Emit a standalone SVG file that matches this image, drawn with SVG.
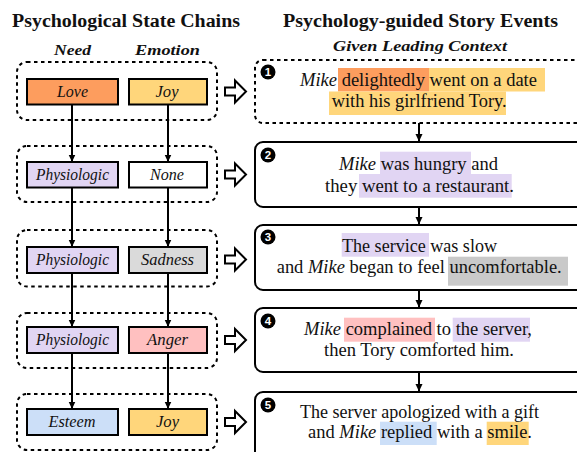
<svg xmlns="http://www.w3.org/2000/svg" width="577" height="452" viewBox="0 0 577 452">
<defs>
<marker id="ah" markerWidth="8" markerHeight="8" refX="7" refY="4" orient="auto" markerUnits="userSpaceOnUse">
<path d="M0,0.5 L7.5,4 L0,7.5 Z" fill="#000"/>
</marker>
<style>
.t{font-family:"Liberation Serif","DejaVu Serif",serif;fill:#111;}
.title{font-size:18px;font-weight:bold;}
.sub{font-size:15.5px;font-weight:bold;font-style:italic;}
.lab{font-size:16px;font-style:italic;text-anchor:middle;}
.body{font-size:18px;}
.i{font-style:italic;}
.box{stroke:#000;stroke-width:2;}
.grp{fill:none;stroke:#000;stroke-width:2;stroke-dasharray:3.5 3.5;}
.ev{fill:#fff;stroke:#000;stroke-width:2;}
.ha{fill:#fff;stroke:#000;stroke-width:2;stroke-linejoin:miter;}
.con{stroke:#000;stroke-width:2;fill:none;marker-end:url(#ah);}
.num{font-family:"Liberation Sans","DejaVu Sans",sans-serif;font-size:11.5px;font-weight:bold;fill:#fff;text-anchor:middle;}
</style>
</defs>
<rect width="577" height="452" fill="#fff"/>

<text class="t title" x="12" y="27" textLength="228" lengthAdjust="spacingAndGlyphs">Psychological State Chains</text>
<text class="t title" x="283" y="27" textLength="275" lengthAdjust="spacingAndGlyphs">Psychology-guided Story Events</text>
<text class="t sub" x="54" y="55" textLength="37" lengthAdjust="spacingAndGlyphs">Need</text>
<text class="t sub" x="135" y="55" textLength="65" lengthAdjust="spacingAndGlyphs">Emotion</text>
<text class="t sub" x="333" y="51" textLength="174" lengthAdjust="spacingAndGlyphs">Given Leading Context</text>

<g id="connectors">
<line class="con" x1="72" y1="104.5" x2="72" y2="161.5"/>
<line class="con" x1="168" y1="104.5" x2="168" y2="161.5"/>
<line class="con" x1="72" y1="187.5" x2="72" y2="246.5"/>
<line class="con" x1="168" y1="187.5" x2="168" y2="246.5"/>
<line class="con" x1="72" y1="273.5" x2="72" y2="326.5"/>
<line class="con" x1="168" y1="273.5" x2="168" y2="326.5"/>
<line class="con" x1="72" y1="353.5" x2="72" y2="408.5"/>
<line class="con" x1="168" y1="353.5" x2="168" y2="408.5"/>
<line class="con" x1="419" y1="123" x2="419" y2="141"/>
<line class="con" x1="419" y1="207" x2="419" y2="224"/>
<line class="con" x1="419" y1="290" x2="419" y2="307"/>
<line class="con" x1="419" y1="372" x2="419" y2="391"/>
<path class="ha" d="M225,87.5 H235 V80.5 L246,91.5 L235,102.5 V95.5 H225 Z"/>
<path class="ha" d="M225,170.5 H235 V163.5 L246,174.5 L235,185.5 V178.5 H225 Z"/>
<path class="ha" d="M225,255.5 H235 V248.5 L246,259.5 L235,270.5 V263.5 H225 Z"/>
<path class="ha" d="M225,336 H235 V329 L246,340 L235,351 V344 H225 Z"/>
<path class="ha" d="M225,418 H235 V411 L246,422 L235,433 V426 H225 Z"/>
</g>

<g id="state1">
<rect class="grp" x="17" y="62" width="200" height="58" rx="10"/>
<rect class="box" x="27" y="79" width="91" height="25.5" fill="#FD9D5E"/>
<text class="t lab" x="72.5" y="97" textLength="31" lengthAdjust="spacingAndGlyphs">Love</text>
<rect class="box" x="129" y="79" width="78" height="25.5" fill="#FFD67B"/>
<text class="t lab" x="167" y="97" textLength="23" lengthAdjust="spacingAndGlyphs">Joy</text>
</g>
<g id="state2">
<rect class="grp" x="17" y="146" width="200" height="56" rx="10"/>
<rect class="box" x="27" y="162" width="91" height="25.5" fill="#E1D5F3"/>
<text class="t lab" x="72.5" y="180" textLength="73" lengthAdjust="spacingAndGlyphs">Physiologic</text>
<rect class="box" x="129" y="162" width="78" height="25.5" fill="#FFFFFF"/>
<text class="t lab" x="167" y="180" textLength="34" lengthAdjust="spacingAndGlyphs">None</text>
</g>
<g id="state3">
<rect class="grp" x="17" y="230" width="200" height="56.5" rx="10"/>
<rect class="box" x="27" y="247" width="91" height="26" fill="#E1D5F3"/>
<text class="t lab" x="72.5" y="265" textLength="73" lengthAdjust="spacingAndGlyphs">Physiologic</text>
<rect class="box" x="129" y="247" width="78" height="26" fill="#DADADA"/>
<text class="t lab" x="167.5" y="265" textLength="53" lengthAdjust="spacingAndGlyphs">Sadness</text>
</g>
<g id="state4">
<rect class="grp" x="17" y="313" width="200" height="55" rx="10"/>
<rect class="box" x="27" y="327" width="91" height="26" fill="#E1D5F3"/>
<text class="t lab" x="72.5" y="345" textLength="73" lengthAdjust="spacingAndGlyphs">Physiologic</text>
<rect class="box" x="129" y="327" width="78" height="26" fill="#FFC0C0"/>
<text class="t lab" x="167.5" y="345" textLength="41" lengthAdjust="spacingAndGlyphs">Anger</text>
</g>
<g id="state5">
<rect class="grp" x="17" y="394" width="200" height="56" rx="10"/>
<rect class="box" x="27" y="409" width="91" height="26" fill="#CCDFF8"/>
<text class="t lab" x="72" y="427" textLength="47" lengthAdjust="spacingAndGlyphs">Esteem</text>
<rect class="box" x="129" y="409" width="78" height="26" fill="#FFD67B"/>
<text class="t lab" x="167.5" y="427" textLength="23" lengthAdjust="spacingAndGlyphs">Joy</text>
</g>

<g id="event1">
<rect class="grp" x="255" y="60" width="340" height="63" rx="8"/>
<rect x="338" y="68" width="91" height="23.5" fill="#FD9D5E"/>
<rect x="429" y="68" width="116" height="23.5" fill="#FFD67B"/>
<rect x="329" y="91.5" width="177" height="23.5" fill="#FFD67B"/>
<circle cx="268" cy="72" r="7.5" fill="#000"/>
<text class="num" x="268" y="76">1</text>
<text class="t body" x="300" y="86" textLength="237" lengthAdjust="spacingAndGlyphs"><tspan class="i">Mike</tspan> delightedly went on a date</text>
<text class="t body" x="331.7" y="107" textLength="175" lengthAdjust="spacingAndGlyphs">with his girlfriend Tory.</text>
</g>
<g id="event2">
<rect class="ev" x="255" y="142" width="340" height="65" rx="8"/>
<rect x="380" y="151.7" width="91" height="22.3" fill="#E1D5F3"/>
<rect x="359" y="174" width="152.7" height="23.7" fill="#E1D5F3"/>
<circle cx="268" cy="155" r="7.5" fill="#000"/>
<text class="num" x="268" y="159">2</text>
<text class="t body" x="339" y="170" textLength="159" lengthAdjust="spacingAndGlyphs"><tspan class="i">Mike</tspan> was hungry and</text>
<text class="t body" x="325" y="191.7" textLength="189" lengthAdjust="spacingAndGlyphs">they went to a restaurant.</text>
</g>
<g id="event3">
<rect class="ev" x="255" y="225" width="340" height="65" rx="8"/>
<rect x="341.7" y="233" width="87.3" height="23.7" fill="#E1D5F3"/>
<rect x="448" y="256.7" width="120" height="29" fill="#C9C9C9"/>
<circle cx="268" cy="237" r="7.5" fill="#000"/>
<text class="num" x="268" y="241">3</text>
<text class="t body" x="342" y="251.7" textLength="155" lengthAdjust="spacingAndGlyphs">The service was slow</text>
<text class="t body" x="276.7" y="272.7" textLength="285" lengthAdjust="spacingAndGlyphs">and <tspan class="i">Mike</tspan> began to feel uncomfortable.</text>
</g>
<g id="event4">
<rect class="ev" x="255" y="308" width="340" height="64" rx="8"/>
<rect x="344" y="317.7" width="91" height="24" fill="#FFC0C0"/>
<rect x="452.7" y="317.7" width="77.3" height="24" fill="#E1D5F3"/>
<circle cx="268" cy="321" r="7.5" fill="#000"/>
<text class="num" x="268" y="325">4</text>
<text class="t body" x="304" y="335" textLength="228" lengthAdjust="spacingAndGlyphs"><tspan class="i">Mike</tspan> complained to the server,</text>
<text class="t body" x="324" y="356" textLength="190" lengthAdjust="spacingAndGlyphs">then Tory comforted him.</text>
</g>
<g id="event5">
<rect class="ev" x="255" y="392" width="340" height="70" rx="8"/>
<rect x="380" y="421.7" width="56.7" height="23.3" fill="#CCDFF8"/>
<rect x="486.7" y="421.7" width="42" height="23.3" fill="#FFD67B"/>
<circle cx="268" cy="405" r="7.5" fill="#000"/>
<text class="num" x="268" y="409">5</text>
<text class="t body" x="300" y="418.3" textLength="239" lengthAdjust="spacingAndGlyphs">The server apologized with a gift</text>
<text class="t body" x="308" y="438.3" textLength="224" lengthAdjust="spacingAndGlyphs">and <tspan class="i">Mike</tspan> replied with a smile.</text>
</g>
</svg>
